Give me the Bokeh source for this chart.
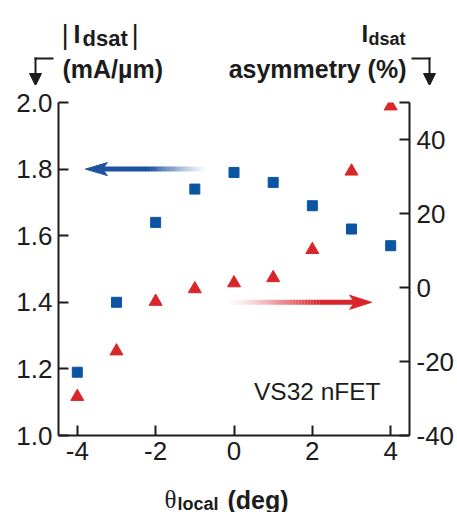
from bokeh.plotting import figure
from bokeh.layouts import column
from bokeh.models import Range1d, LinearAxis, FixedTicker, PrintfTickFormatter
from bokeh.core.properties import value
from bokeh.embed import file_html
from bokeh.resources import INLINE

# ---- data ----
theta = [-4, -3, -2, -1, 0, 1, 2, 3, 4]
idsat = [1.19, 1.40, 1.64, 1.74, 1.79, 1.76, 1.69, 1.62, 1.57]
asym = [-29.5, -17.2, -3.8, -0.4, 1.2, 2.6, 10.2, 31.4, 49.0]
x_ticks = [-4, -2, 0, 2, 4]
left_ticks = [1.0, 1.2, 1.4, 1.6, 1.8, 2.0]
right_ticks = [-40, -20, 0, 20, 40, 50]

BLUE = "#0b55a3"
RED = "#d8262b"
INK = "#1c1c1c"
FONT = "Liberation Sans"

X0, X1 = -4.48, 4.48
Y0, Y1 = 1.0, 2.0
P0, P1 = -40, 50

W = 457
TOP_H, MAIN_H, BOT_H = 85, 388, 39
# frame in page pixels
FL, FR, FT, FB = 58, 410, 102, 435


def X(px):
    return X0 + (px - FL) / (FR - FL) * (X1 - X0)


def Y(py):
    return Y1 - (py - FT) / (FB - FT) * (Y1 - Y0)


def no_align(f):
    try:
        f.frame_align = False
    except Exception:
        pass


def blank(h):
    f = figure(width=W, height=h, x_range=Range1d(0, W), y_range=Range1d(h, 0),
               output_backend="svg", toolbar_location=None,
               x_axis_location=None, y_axis_location=None, min_border=0)
    f.outline_line_color = None
    f.grid.visible = False
    f.title.visible = False
    no_align(f)
    return f


def txt(f, px, py, s, size, bold=False, align="left", font=FONT):
    f.text(x=[px], y=[py], text=[s], text_font=value(font), text_font_size=f"{size}px",
           text_color=INK, text_font_style="bold" if bold else "normal",
           text_align=align, text_baseline="alphabetic")


# ---------------- top strip (axis titles) ----------------
top = blank(TOP_H)
txt(top, 61, 34, "|", 28)
txt(top, 73, 33, "I", 25, True)
txt(top, 82, 38, "dsat", 22, True)
txt(top, 131, 34, "|", 28)
txt(top, 62, 68, "(mA/\u00b5m)", 25, True)
txt(top, 361, 33, "I", 24, True)
txt(top, 368, 38, "dsat", 18, True)
txt(top, 406, 68, "asymmetry (%)", 25, True, "right")
# bent arrows
top.segment([53, 35], [58, 57], [34, 35], [58, 76], line_color=INK, line_width=2)
top.patch([29, 41, 35], [73, 73, 85], color=INK)
top.segment([411, 429], [58, 57], [430, 429], [58, 76], line_color=INK, line_width=2)
top.patch([423, 435, 429], [73, 73, 85], color=INK)

# ---------------- main plot ----------------
p = figure(width=W, height=MAIN_H, x_range=Range1d(X0, X1), y_range=Range1d(Y0, Y1),
           output_backend="svg", toolbar_location=None,
           min_border_left=FL, min_border_right=W - FR,
           min_border_top=FT - TOP_H, min_border_bottom=TOP_H + MAIN_H - FB)
p.extra_y_ranges = {"pct": Range1d(P0, P1)}
p.outline_line_color = None
p.grid.visible = False
p.title.visible = False
no_align(p)


def style(ax, standoff):
    ax.axis_line_width = 2
    ax.axis_line_color = INK
    ax.major_tick_line_width = 2
    ax.major_tick_line_color = INK
    ax.major_tick_in = 10
    ax.major_tick_out = 0
    ax.minor_tick_line_color = None
    ax.major_label_text_font = FONT
    ax.major_label_text_font_size = "26px"
    ax.major_label_text_color = INK
    ax.major_label_standoff = standoff


xa = p.xaxis[0]
xa.ticker = FixedTicker(ticks=x_ticks)
xa.formatter = PrintfTickFormatter(format="%d")
style(xa, 6)
ya = p.yaxis[0]
ya.ticker = FixedTicker(ticks=left_ticks)
ya.formatter = PrintfTickFormatter(format="%.1f")
style(ya, 6)
ra = LinearAxis(y_range_name="pct", ticker=FixedTicker(ticks=right_ticks),
                formatter=PrintfTickFormatter(format="%d"),
                major_label_overrides={50: ""})
style(ra, 7)
p.add_layout(ra, "right")

# data marks
p.scatter(theta, idsat, marker="square", size=10, color=BLUE)
p.scatter(theta, asym, marker="triangle", size=13, color=RED, y_range_name="pct")

# in-plot arrows (gradient shafts + heads)
pxu = (FR - FL) / (X1 - X0)


def grad_arrow(y, x_fade, x_solid, x_tip, color, half_w_units, direction, yr="default"):
    n = 30
    xs0, xs1, al = [], [], []
    for i in range(n):
        xs0.append(x_fade + (x_solid - x_fade) * i / n)
        xs1.append(x_fade + (x_solid - x_fade) * (i + 1) / n)
        al.append(((i + 1) / n) ** 1.3)
    p.segment(xs0, [y] * n, xs1, [y] * n, line_color=color, line_alpha=al,
              line_width=5, line_cap="butt", y_range_name=yr)
    head_len = 22 / pxu
    notch = 17 / pxu
    base = x_tip - direction * notch
    p.segment([x_solid], [y], [base], [y], line_color=color, line_width=5,
              line_cap="butt", y_range_name=yr)
    hx = [x_tip, x_tip - direction * head_len, x_tip - direction * notch, x_tip - direction * head_len]
    hy = [y, y + half_w_units, y, y - half_w_units]
    p.patch(hx, hy, color=color, y_range_name=yr)


grad_arrow(1.8, X(207), X(150), X(85), "#1d52a0", 6.5 / (FB - FT) * (Y1 - Y0), -1)
grad_arrow(-4.0, X(228), X(320), X(372), RED, 7 / (FB - FT) * (P1 - P0), 1, "pct")

p.text(x=[X(254)], y=[Y(391)], text=["VS32 nFET"], text_font=value(FONT),
       text_font_size="24.5px", text_color=INK, text_baseline="alphabetic")

# ---------------- bottom strip (x title) ----------------
bot = blank(BOT_H)
base = TOP_H + MAIN_H
txt(bot, 164, 499 - base, "\u03b8", 25, font="Liberation Serif")
txt(bot, 177, 503 - base, "local", 18, True)
txt(bot, 227, 499 - base, "(deg)", 25, True)

layout = column(top, p, bot, spacing=0)
open("out.html", "w").write(file_html(layout, INLINE))
